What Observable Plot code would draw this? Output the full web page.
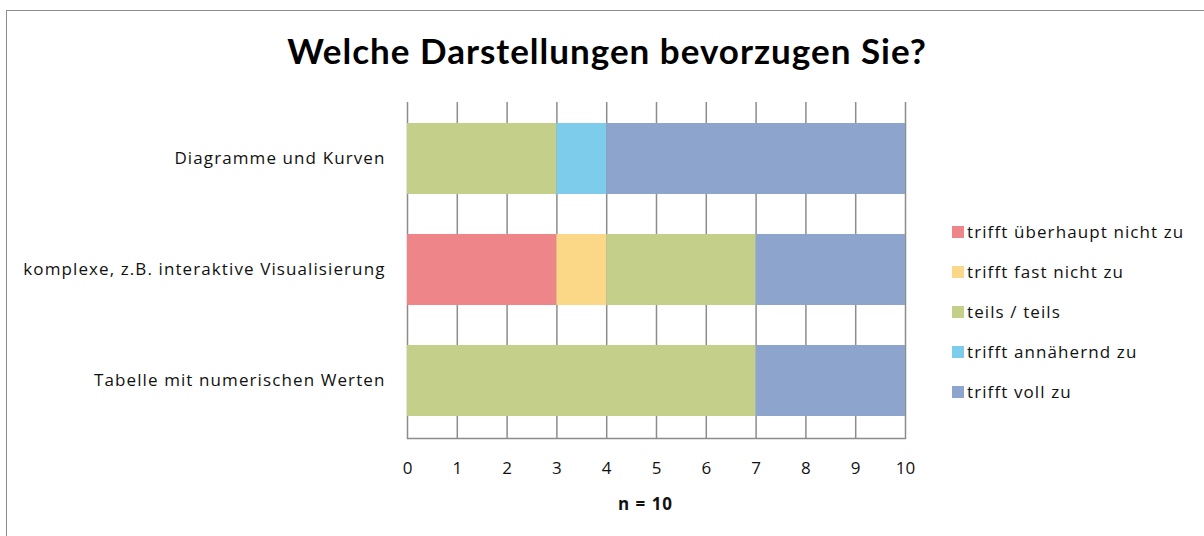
<!DOCTYPE html>
<html>
<head>
<meta charset="utf-8">
<script src="https://cdn.jsdelivr.net/npm/d3@7"></script>
<script src="https://cdn.jsdelivr.net/npm/@observablehq/plot@0.6"></script>
<style>
  html, body { margin: 0; padding: 0; background: #fff; }
  #wrap { position: relative; width: 1204px; height: 536px; overflow: hidden; font-family: "Open Sans", Lato, sans-serif; color: #000; }
  #frame { position: absolute; left: 6px; top: 10px; width: 1210px; height: 540px; border: 1px solid #8c8c8c; box-sizing: border-box; }
  #title { position: absolute; left: 0; width: 1214px; top: 29px; text-align: center; font-family: Lato, sans-serif; font-size: 35px; font-weight: bold; letter-spacing: 1px; }
  #chart { position: absolute; left: 0; top: 90px; }
  #legend { position: absolute; left: 952px; top: 220px; font-size: 17px; letter-spacing: 1.1px; color: #111; }
  .item { height: 40px; display: flex; align-items: flex-start; }
  .sw { width: 12px; height: 12px; margin-top: 6px; margin-right: 3px; }
  #chart svg { font-family: "Open Sans", Lato, sans-serif; }
  #chart svg .yax text { letter-spacing: 1.1px; }
  #chart svg .nlab text { letter-spacing: 1px; }
</style>
</head>
<body>
<div id="wrap">
  <div id="frame"></div>
  <div id="title">Welche Darstellungen bevorzugen Sie?</div>
  <div id="chart"></div>
  <div id="legend"></div>
</div>
<script>
const categories = ["Diagramme und Kurven", "komplexe, z.B. interaktive Visualisierung", "Tabelle mit numerischen Werten"];
const responses = ["trifft überhaupt nicht zu", "trifft fast nicht zu", "teils / teils", "trifft annähernd zu", "trifft voll zu"];
const colors = ["#EE8588", "#FAD887", "#C4CF8A", "#7ECCEC", "#8DA4CC"];
// values per category, in order of responses
const diagramme = [0, 0, 3, 1, 6];
const komplexe = [3, 1, 3, 0, 3];
const tabelle = [0, 0, 7, 0, 3];
const xTicks = [0, 1, 2, 3, 4, 5, 6, 7, 8, 9, 10];
const xLabel = "n = 10";

const series = [diagramme, komplexe, tabelle];
const data = [];
categories.forEach((c, i) => {
  responses.forEach((r, j) => {
    if (series[i][j] > 0) data.push({cat: c, resp: r, value: series[i][j]});
  });
});

const chart = Plot.plot({
  width: 1204,
  height: 440,
  marginLeft: 407,
  marginRight: 299,
  marginTop: 12,
  marginBottom: 92,
  style: {fontSize: "17px", background: "transparent", color: "#111"},
  x: {domain: [0, 10], ticks: xTicks, label: null},
  y: {domain: categories, paddingInner: 0.357, paddingOuter: 0.18, label: null},
  color: {domain: responses, range: colors},
  marks: [
    Plot.ruleX(xTicks, {stroke: "#8c8c8c", strokeWidth: 1.5}),
    Plot.frame({anchor: "bottom", stroke: "#8c8c8c", strokeWidth: 1.5}),
    Plot.barX(data, Plot.stackX({y: "cat", x: "value", fill: "resp", order: responses})),
    Plot.axisX({ticks: xTicks, tickSize: 0, tickPadding: 23, fontSize: 17, label: null}),
    Plot.text([xLabel], {frameAnchor: "bottom", dy: 71, dx: -11, fontWeight: "bold", fontSize: 17, className: "nlab"}),
    Plot.axisY({tickSize: 0, tickPadding: 22, fontSize: 17, label: null, className: "yax"})
  ]
});
document.getElementById("chart").appendChild(chart);

const leg = document.getElementById("legend");
responses.forEach((r, i) => {
  const d = document.createElement("div");
  d.className = "item";
  d.innerHTML = `<div class="sw" style="background:${colors[i]}"></div><div>${r}</div>`;
  leg.appendChild(d);
});
</script>
</body>
</html>
